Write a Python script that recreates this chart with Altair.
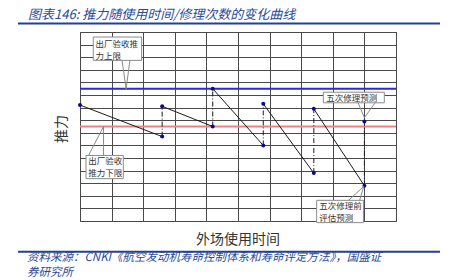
import altair as alt
import pandas as pd

# ---------------- data ----------------
title_text = "图表146:  推力随使用时间/修理次数的变化曲线"
source_lines = ["资料来源：CNKI《航空发动机寿命控制体系和寿命评定方法》，国盛证", "券研究所"]
x_title = "外场使用时间"
y_title = "推力"

seg_start_x = [0.0, 2.6, 4.2, 5.8, 7.4]
seg_start_y = [9.2, 9.1, 10.5, 9.3, 8.9]
seg_end_x = [2.6, 4.2, 5.8, 7.4, 9.0]
seg_end_y = [6.7, 7.5, 6.0, 3.8, 2.8]
predicted_x = [9.0]
predicted_y = [7.9]

upper_limit = 10.5
lower_limit = 7.5

x_grid = list(range(0, 11))
y_grid = list(range(0, 16))

# callouts: box extents (data units), text lines, pointer (base a, base b, tip)
callout_names = ["upper", "lower", "pred", "eval"]
box_x = [0.42, 0.19, 7.70, 7.49]
box_x2 = [1.95, 1.37, 9.63, 8.97]
box_y = [14.60, 5.20, 10.22, 1.64]
box_y2 = [12.75, 3.36, 9.38, -0.13]
callout_lines = [["出厂验收推", "力上限"], ["出厂验收", "推力下限"], ["五次修理预测"], ["五次修理前", "评估预测"]]
text_x = [0.49, 0.26, 7.79, 7.57]
text_y = [[14.05, 13.12], [4.74, 3.82], [9.80], [1.21, 0.27]]
ptr_base_y = [12.75, 5.20, 9.38, 1.64]
ptr_dir = [-1, 1, -1, 1]  # +1: pointer goes up from box top, -1: down from bottom
ptr_xa = [1.33, 0.27, 8.80, 8.50]
ptr_xb = [1.58, 0.745, 9.34, 8.85]
ptr_tip_x = [1.46, 0.745, 9.00, 8.98]
ptr_tip_y = [10.5, 7.5, 8.20, 2.75]

# ---------------- tables ----------------
seg_rows = []
for i in range(len(seg_start_x)):
    seg_rows.append({"seg": i, "x": seg_start_x[i], "y": seg_start_y[i]})
    seg_rows.append({"seg": i, "x": seg_end_x[i], "y": seg_end_y[i]})
seg_df = pd.DataFrame(seg_rows)

pts_df = pd.DataFrame({
    "x": seg_start_x + seg_end_x + predicted_x,
    "y": seg_start_y + seg_end_y + predicted_y,
})

rep_top_y = seg_start_y[1:] + predicted_y
rep_df = pd.DataFrame({"x": seg_end_x, "y": seg_end_y, "y2": rep_top_y})

box_df = pd.DataFrame({"name": callout_names, "x": box_x, "x2": box_x2, "y": box_y, "y2": box_y2})

wedge_fill_rows, wedge_line_rows, txt_rows = [], [], []
for i, n in enumerate(callout_names):
    base_fill = ptr_base_y[i] - 0.12 * ptr_dir[i]
    wedge_fill_rows += [
        {"name": n, "o": 0, "x": ptr_xa[i], "y": base_fill, "y2": base_fill},
        {"name": n, "o": 1, "x": ptr_tip_x[i], "y": ptr_tip_y[i], "y2": base_fill},
        {"name": n, "o": 2, "x": ptr_xb[i], "y": base_fill, "y2": base_fill},
    ]
    wedge_line_rows += [
        {"name": n, "o": 0, "x": ptr_xa[i], "y": ptr_base_y[i]},
        {"name": n, "o": 1, "x": ptr_tip_x[i], "y": ptr_tip_y[i]},
        {"name": n, "o": 2, "x": ptr_xb[i], "y": ptr_base_y[i]},
    ]
    for j, line in enumerate(callout_lines[i]):
        txt_rows.append({"x": text_x[i], "y": text_y[i][j], "t": line})
wedge_fill_df = pd.DataFrame(wedge_fill_rows)
wedge_line_df = pd.DataFrame(wedge_line_rows)
txt_df = pd.DataFrame(txt_rows)

limits_df = pd.DataFrame({"y": [upper_limit, lower_limit], "name": ["upper", "lower"]})

# ---------------- chart ----------------
FONT = "Noto Sans CJK SC"
W, H = 316, 189
xs = alt.Scale(domain=[0, 10], nice=False, zero=False)
ys = alt.Scale(domain=[0, 15], nice=False, zero=False)
AX = alt.Axis(values=x_grid, grid=True, labels=False, ticks=False, domain=False,
              title=None, gridColor="#4a4a4a", gridOpacity=1, gridWidth=1)
AY = alt.Axis(values=y_grid, grid=True, labels=False, ticks=False, domain=False,
              title=None, gridColor="#4a4a4a", gridOpacity=1, gridWidth=1)


def X(f="x:Q"):
    return alt.X(f, scale=xs, axis=AX)


def Y(f="y:Q"):
    return alt.Y(f, scale=ys, axis=AY)


limits = alt.Chart(limits_df).mark_rule(strokeWidth=2).encode(
    y=Y(),
    color=alt.Color("name:N", scale=alt.Scale(domain=["upper", "lower"], range=["#2a2ad8", "#f28080"]), legend=None),
)

lines = alt.Chart(seg_df).mark_line(color="#1a1a1a", strokeWidth=1).encode(
    x=X(), y=Y(), detail="seg:N",
)

repairs = alt.Chart(rep_df).mark_rule(color="#1a1a1a", strokeWidth=1, strokeDash=[5, 2, 1, 2]).encode(
    x=X(), y=Y(), y2="y2:Q"
)

points = alt.Chart(pts_df).mark_circle(color="#0a0a8c", size=16, opacity=1).encode(
    x=X(), y=Y()
)

boxes = alt.Chart(box_df).mark_rect(fill="white", stroke="#8a8a8a", strokeWidth=1).encode(
    x=X(), x2="x2:Q", y=Y(), y2="y2:Q"
)

wedge_fill = alt.Chart(wedge_fill_df).mark_area(color="white", opacity=1).encode(
    x=X(), y=Y(), y2="y2:Q", detail="name:N", order="o:Q"
)

wedge_line = alt.Chart(wedge_line_df).mark_line(color="#8a8a8a", strokeWidth=1).encode(
    x=X(), y=Y(), detail="name:N", order="o:Q"
)

callout_text = alt.Chart(txt_df).mark_text(align="left", baseline="middle", font=FONT, fontSize=8.5, color="#333333").encode(
    x=X(), y=Y(), text="t:N"
)

one = pd.DataFrame({"k": [0]})


def label(text, x, y, size, **kw):
    return alt.Chart(one).mark_text(text=text, font=FONT, fontSize=size, **kw).encode(
        x=alt.value(x), y=alt.value(y)
    )


title = label(title_text, -52, -17, 13, align="left", baseline="middle", fontStyle="italic", color="#2a4a9a")
top_rule = alt.Chart(one).mark_rule(color="#23418f", strokeWidth=2).encode(
    x=alt.value(-62), x2=alt.value(360), y=alt.value(-8.5))
bot_rule = alt.Chart(one).mark_rule(color="#23418f", strokeWidth=2).encode(
    x=alt.value(-62), x2=alt.value(360), y=alt.value(219.7))
src1 = label(source_lines[0], -53, 226, 11.5, align="left", baseline="middle", fontStyle="italic", color="#2a4a9a")
src2 = label(source_lines[1], -53, 240.5, 11.5, align="left", baseline="middle", fontStyle="italic", color="#2a4a9a")
xt = label(x_title, 158, 207.5, 14, align="center", baseline="middle", color="#333333")
yt = label(y_title, -18, 97, 14, align="center", baseline="middle", angle=270, color="#333333")

chart = alt.layer(
    limits, lines, repairs, points, boxes, wedge_fill, wedge_line, callout_text,
    title, top_rule, bot_rule, src1, src2, xt, yt,
).properties(
    width=W, height=H,
    autosize=alt.AutoSizeParams(type="none"),
    padding={"left": 80, "top": 32, "right": 56, "bottom": 59},
).configure_view(stroke="#4a4a4a", strokeWidth=1)

chart.save("out.html", embed_options={"renderer": "svg", "actions": False})
